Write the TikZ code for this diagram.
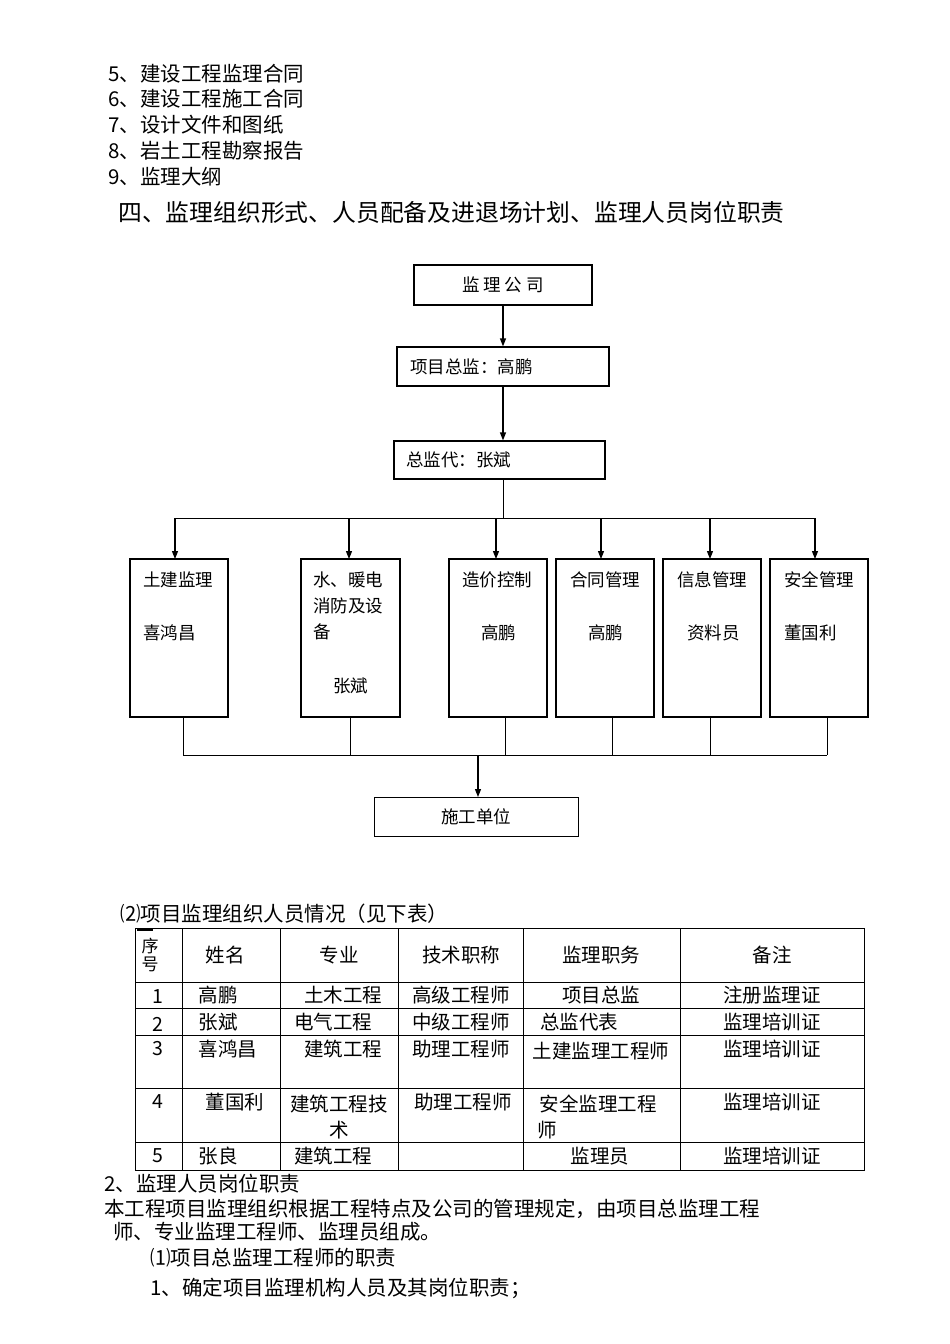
\documentclass[tikz,border=0pt]{standalone}
\usepackage{fontspec}
\setmainfont{Noto Sans CJK SC}
\usetikzlibrary{arrows.meta}
\begin{document}
\begin{tikzpicture}[x=1pt,y=-1pt,
  bx/.style={draw,line width=1.2pt},
  tx/.style={anchor=west,inner sep=0pt,font=\fontsize{20.5}{22}\selectfont},
  bt/.style={anchor=west,inner sep=0pt,font=\fontsize{17.5}{19}\selectfont},
  ct/.style={inner sep=0pt,font=\fontsize{19.5}{21}\selectfont},
  ar/.style={-{Triangle[length=8pt,width=6pt]},line width=1.2pt},
  ln/.style={line width=0.8pt}]
\useasboundingbox (0,0) rectangle (950,1344);
\fill[white] (0,0) rectangle (950,1344);
\node[tx] (l5) at (108,74) {5、建设工程监理合同};
\node[tx] (l6) at (108,99) {6、建设工程施工合同};
\node[tx] (l7) at (108,125) {7、设计文件和图纸};
\node[tx] (l8) at (108,151) {8、岩土工程勘察报告};
\node[tx] (l9) at (108,177) {9、监理大纲};
\node[anchor=west,inner sep=0pt,font=\fontsize{23.8}{25}\selectfont] (title) at (118,212) {四、监理组织形式、人员配备及进退场计划、监理人员岗位职责};
% top chain
\node[bx,minimum width=178pt,minimum height=40pt] (co) at (503,285) {};
\node[bt,anchor=center] at (co) {监\ 理\ 公\ 司};
\node[bx,minimum width=212pt,minimum height=39pt] (zj) at (503,366.5) {};
\node[bt] at (410,367) {项目总监：高鹏};
\node[bx,minimum width=211pt,minimum height=38pt] (zd) at (499.5,460) {};
\node[bt] at (406,460) {总监代：张斌};
\draw[ar] (co.south) -- (co.south|-zj.north);
\draw[ar] (zj.south) -- (zj.south|-zd.north);
\coordinate (br) at (503,518);
\draw[ln] (zd.south-|br) -- (br);
\draw[ln] (175,518) -- (815,518);
% six boxes
\foreach \n/\xa/\xb/\ax in {b1/130/228/175,b2/301/400/349,b3/449/547/496,b4/556/654/601,b5/663/761/710,b6/770/868/815}{
  \draw[bx] (\xa,559) rectangle (\xb,717);
  \draw[ar] (\ax,518) -- (\ax,559);
}
\node[bt] at (143,580) {土建监理};
\node[bt] at (143,633) {喜鸿昌};
\node[bt] at (313,580) {水、暖电};
\node[bt] at (313,606) {消防及设};
\node[bt] at (313,632) {备};
\node[bt] at (333,686) {张斌};
\node[bt] at (462,580) {造价控制};
\node[bt] at (481,633) {高鹏};
\node[bt] at (570,580) {合同管理};
\node[bt] at (588,633) {高鹏};
\node[bt] at (677,580) {信息管理};
\node[bt] at (687,633) {资料员};
\node[bt] at (784,580) {安全管理};
\node[bt] at (784,633) {董国利};
\foreach \x in {183,350,505,612,710,827}{\draw[ln] (\x,717) -- (\x,755);}
\draw[ln] (183,755) -- (827,755);
\node[draw,line width=0.8pt,minimum width=204pt,minimum height=39pt] (sg) at (476,816.5) {};
\node[bt,anchor=center] at (sg) {施工单位};
\draw[ar] (478,755) -- (478,797);
% table
\node[tx] (cap) at (120,914) {⑵项目监理组织人员情况（见下表）};
\draw[ln] (135,928) rectangle (864,1170);
\foreach \x in {182,280,398,523,680}{\draw[ln] (\x,928) -- (\x,1170);}
\foreach \y in {982,1008,1035,1088,1142}{\draw[ln] (135,\y) -- (864,\y);}
\draw[line width=2pt] (137,930) -- (153,930);
\node[ct,align=center,font=\fontsize{17}{18}\selectfont] at (150,955) {序\\号};
\node[ct] at (225,955) {姓名};
\node[ct] at (339,955) {专业};
\node[ct] at (461,955) {技术职称};
\node[ct] at (601,955) {监理职务};
\node[ct] at (772,955) {备注};
\node[ct] at (158,997) {1};\node[ct] at (218,995) {高鹏};\node[ct] at (343,995) {土木工程};\node[ct] at (461,995) {高级工程师};\node[ct] at (601,995) {项目总监};\node[ct] at (772,995) {注册监理证};
\node[ct] at (158,1024) {2};\node[ct] at (218,1022) {张斌};\node[ct] at (333,1022) {电气工程};\node[ct] at (461,1022) {中级工程师};\node[ct] at (579,1022) {总监代表};\node[ct] at (772,1022) {监理培训证};
\node[ct] at (158,1049) {3};\node[ct] at (228,1049) {喜鸿昌};\node[ct] at (343,1049) {建筑工程};\node[ct] at (461,1049) {助理工程师};\node[ct] at (601,1051) {土建监理工程师};\node[ct] at (772,1049) {监理培训证};
\node[ct] at (158,1102) {4};\node[ct] at (235,1102) {董国利};\node[ct] at (339,1104) {建筑工程技};\node[ct] at (339,1130) {术};\node[ct] at (463,1102) {助理工程师};\node[ct] at (598,1104) {安全监理工程};\node[ct] at (547,1130) {师};\node[ct] at (772,1102) {监理培训证};
\node[ct] at (158,1156) {5};\node[ct] at (218,1156) {张良};\node[ct] at (333,1156) {建筑工程};\node[ct] at (600,1156) {监理员};\node[ct] at (772,1156) {监理培训证};
\node[tx] at (104,1184) {2、监理人员岗位职责};
\node[tx] at (104,1209) {本工程项目监理组织根据工程特点及公司的管理规定，由项目总监理工程};
\node[tx] at (113,1232) {师、专业监理工程师、监理员组成。};
\node[tx] at (150,1258) {⑴项目总监理工程师的职责};
\node[tx] at (150,1288) {1、确定项目监理机构人员及其岗位职责；};
\end{tikzpicture}
\end{document}
